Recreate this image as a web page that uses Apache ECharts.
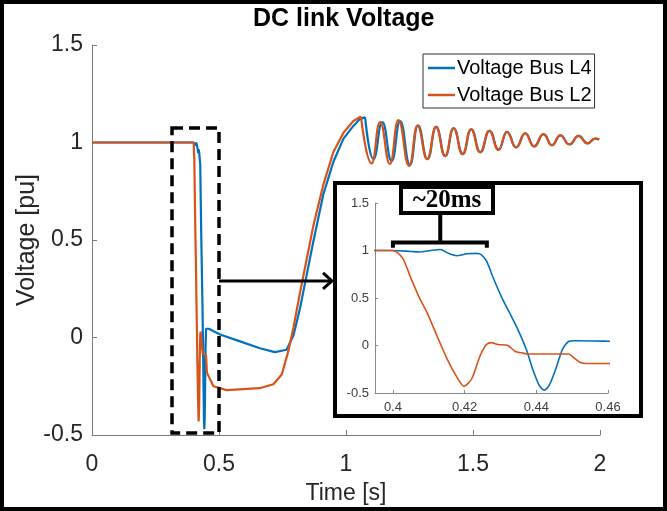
<!DOCTYPE html>
<html><head><meta charset="utf-8">
<script src="https://cdn.jsdelivr.net/npm/echarts@6/dist/echarts.min.js"></script>
<style>html,body{margin:0;padding:0;background:#fff}#c{width:667px;height:511px}</style>
</head><body><div id="c"></div>
<script>
// ---- data ----
const seriesNames = ['Voltage Bus L4', 'Voltage Bus L2'];
const xTicks = [0, 0.5, 1, 1.5, 2];
const yTicks = [-0.5, 0, 0.5, 1, 1.5];
const insetXTicks = [0.4, 0.42, 0.44, 0.46];
const insetYTicks = [-0.5, 0, 0.5, 1, 1.5];

// Voltage Bus L4 (blue): fault, recovery and rise
const l4Time = [0, 0.400, 0.405, 0.4073, 0.4105, 0.4132, 0.4155, 0.4178, 0.4206, 0.4234, 0.4247, 0.4261, 0.428, 0.4303, 0.4326, 0.4349, 0.4372, 0.439, 0.4408, 0.4422, 0.4436, 0.4454, 0.4473, 0.4491, 0.4505, 0.46, 0.504, 0.583, 0.661, 0.72, 0.766, 0.793, 0.819, 0.845, 0.871, 0.91, 0.95, 0.99, 1.029, 1.055, 1.075];
const l4Volt = [1, 1, 0.99, 0.985, 1.0, 1.01, 0.97, 0.945, 0.965, 0.97, 0.955, 0.89, 0.71, 0.51, 0.34, 0.165, -0.04, -0.25, -0.42, -0.47, -0.42, -0.25, -0.04, 0.045, 0.05, 0.045, 0.015, -0.02, -0.055, -0.075, -0.063, 0.01, 0.15, 0.32, 0.49, 0.73, 0.90, 1.02, 1.085, 1.12, 1.13];
// Voltage Bus L4: oscillation peaks and troughs
const l4OscTime = [1.075, 1.108, 1.143, 1.18, 1.213, 1.252, 1.283, 1.321, 1.355, 1.391, 1.424, 1.46, 1.493, 1.529, 1.565, 1.601, 1.634, 1.67, 1.706, 1.741, 1.778, 1.811, 1.844, 1.88, 1.916, 1.951, 1.981, 1.997];
const l4OscVolt = [1.13, 0.915, 1.105, 0.905, 1.11, 0.885, 1.088, 0.915, 1.08, 0.93, 1.073, 0.94, 1.068, 0.95, 1.06, 0.963, 1.055, 0.975, 1.047, 0.98, 1.043, 0.986, 1.037, 0.99, 1.034, 0.996, 1.02, 1.015];

// Voltage Bus L2 (orange): fault, recovery and rise
const l2Time = [0, 0.400, 0.4027, 0.405, 0.4073, 0.4096, 0.4123, 0.4151, 0.4178, 0.4198, 0.422, 0.4243, 0.4261, 0.4275, 0.4293, 0.4321, 0.434, 0.4362, 0.438, 0.449, 0.4505, 0.4523, 0.454, 0.46, 0.478, 0.53, 0.66, 0.714, 0.747, 0.773, 0.793, 0.819, 0.845, 0.871, 0.91, 0.95, 0.99, 1.029, 1.059];
const l2Volt = [1, 1, 0.92, 0.71, 0.51, 0.34, 0.10, -0.14, -0.33, -0.43, -0.35, -0.11, 0.01, 0.03, 0.01, 0.0, -0.06, -0.08, -0.09, -0.09, -0.13, -0.18, -0.19, -0.19, -0.25, -0.27, -0.26, -0.24, -0.19, -0.07, 0.05, 0.23, 0.40, 0.57, 0.78, 0.95, 1.05, 1.11, 1.133];
// Voltage Bus L2: oscillation peaks and troughs
const l2OscTime = [1.059, 1.101, 1.134, 1.173, 1.206, 1.249, 1.281, 1.32, 1.354, 1.39, 1.423, 1.459, 1.492, 1.528, 1.564, 1.6, 1.633, 1.669, 1.705, 1.74, 1.777, 1.81, 1.843, 1.879, 1.915, 1.95, 1.98, 1.997];
const l2OscVolt = [1.133, 0.893, 1.105, 0.89, 1.115, 0.88, 1.085, 0.915, 1.08, 0.93, 1.073, 0.94, 1.068, 0.95, 1.06, 0.963, 1.055, 0.975, 1.047, 0.98, 1.043, 0.986, 1.037, 0.99, 1.034, 0.996, 1.02, 1.015];

// ---- chart ----
const BLUE = '#0072BD', ORANGE = '#D95319';
const FONT = 'Liberation Sans, Arial, sans-serif';
const zip = (t, v) => t.map((x, i) => [x, v[i]]);

const chart = echarts.init(document.getElementById('c'), null, {renderer: 'canvas'});

function line(name, color, data, opts) {
  return Object.assign({
    type: 'line', name, data, symbol: 'none', showSymbol: false,
    lineStyle: {color, width: 2.2}, itemStyle: {color},
    xAxisIndex: 0, yAxisIndex: 0, z: 2, clip: true, animation: false,
    emphasis: {disabled: true}
  }, opts || {});
}

const mainAxisLine = {show: true, onZero: false, lineStyle: {color: '#7a7a7a', width: 1}};
const insetAxisLine = {show: true, onZero: false, lineStyle: {color: '#8a8a8a', width: 1}};

chart.setOption({
  animation: false,
  title: {
    text: 'DC link Voltage', left: 253, top: 7, padding: 0,
    textStyle: {fontFamily: FONT, fontSize: 25, fontWeight: 'bold', color: '#000'}
  },
  legend: {
    data: seriesNames, orient: 'vertical', left: 423, top: 54,
    backgroundColor: '#fff', borderColor: '#303030', borderWidth: 1,
    padding: [4, 3, 3, 5], itemGap: 7, itemWidth: 27, itemHeight: 2.5, icon: 'rect',
    textStyle: {fontFamily: FONT, fontSize: 20, color: '#000', padding: [0, 0, 0, -3]},
    selectedMode: false, z: 6
  },
  grid: [
    {left: 92, top: 45, width: 508, height: 390, containLabel: false},
    {left: 375, top: 203, width: 233, height: 190, containLabel: false, z: 10}
  ],
  xAxis: [
    {
      type: 'value', gridIndex: 0, min: xTicks[0], max: xTicks[xTicks.length - 1], interval: 0.5,
      axisLine: mainAxisLine, splitLine: {show: false},
      axisTick: {show: true, inside: true, length: 5, lineStyle: {color: '#7a7a7a'}},
      axisLabel: {fontFamily: FONT, fontSize: 23, color: '#262626', margin: 18},
      name: 'Time [s]', nameLocation: 'middle', nameGap: 47, nameMoveOverlap: false,
      nameTextStyle: {fontFamily: FONT, fontSize: 23, color: '#262626'}
    },
    {
      type: 'value', gridIndex: 1, min: 0.395, max: 0.46, z: 10,
      axisLine: insetAxisLine, splitLine: {show: false},
      axisTick: {show: true, inside: true, length: 3, customValues: insetXTicks, lineStyle: {color: '#8a8a8a'}},
      axisLabel: {fontFamily: FONT, fontSize: 13, color: '#404040', margin: 8, customValues: insetXTicks}
    }
  ],
  yAxis: [
    {
      type: 'value', gridIndex: 0, min: yTicks[0], max: yTicks[yTicks.length - 1], interval: 0.5,
      axisLine: mainAxisLine, splitLine: {show: false},
      axisTick: {show: true, inside: true, length: 5, lineStyle: {color: '#7a7a7a'}},
      axisLabel: {fontFamily: FONT, fontSize: 23, color: '#262626', margin: 9},
      name: 'Voltage [pu]', nameLocation: 'middle', nameGap: 52, nameMoveOverlap: false,
      nameTextStyle: {fontFamily: FONT, fontSize: 25, color: '#262626'}
    },
    {
      type: 'value', gridIndex: 1, min: insetYTicks[0], max: insetYTicks[insetYTicks.length - 1], interval: 0.5, z: 10,
      axisLine: insetAxisLine, splitLine: {show: false},
      axisTick: {show: true, inside: true, length: 3, lineStyle: {color: '#8a8a8a'}},
      axisLabel: {fontFamily: FONT, fontSize: 13, color: '#404040', margin: 6}
    }
  ],
  series: [
    line(seriesNames[0], BLUE, zip(l4Time, l4Volt)),
    line(seriesNames[0], BLUE, zip(l4OscTime, l4OscVolt), {smooth: 0.5, smoothMonotone: 'x'}),
    line(seriesNames[1], ORANGE, zip(l2Time, l2Volt)),
    line(seriesNames[1], ORANGE, zip(l2OscTime, l2OscVolt), {smooth: 0.5, smoothMonotone: 'x'}),
    line(seriesNames[0], BLUE, zip(l4Time, l4Volt), {xAxisIndex: 1, yAxisIndex: 1, z: 11, smooth: 0.25, lineStyle: {color: BLUE, width: 1.6}}),
    line(seriesNames[1], ORANGE, zip(l2Time, l2Volt), {xAxisIndex: 1, yAxisIndex: 1, z: 11, smooth: 0.25, lineStyle: {color: ORANGE, width: 1.6}})
  ]
});

// annotations positioned from data coordinates
const d1 = chart.convertToPixel({gridIndex: 0}, [0.315, 1.075]);
const d2 = chart.convertToPixel({gridIndex: 0}, [0.5, -0.49]);
const arrowY = chart.convertToPixel({gridIndex: 0}, [0.5, 0.29])[1];
const bL = chart.convertToPixel({gridIndex: 1}, [0.4, 1.03]);
const bT = chart.convertToPixel({gridIndex: 1}, [0.4, 1.085]);
const bR = chart.convertToPixel({gridIndex: 1}, [0.4262, 1.03]);
const bS = chart.convertToPixel({gridIndex: 1}, [0.4132, 1.085]);
const inset = {x: 335, y: 183, w: 306, h: 233};
const lbl = {x: 401, y: 187, w: 92, h: 26};

chart.setOption({
  graphic: [
    {type: 'rect', z: 5, shape: {x: inset.x, y: inset.y, width: inset.w, height: inset.h},
     style: {fill: '#fff', stroke: '#000', lineWidth: 4}},
    {type: 'rect', z: 4, shape: {x: d1[0], y: d1[1], width: d2[0] - d1[0], height: d2[1] - d1[1]},
     style: {fill: 'none', stroke: '#000', lineWidth: 3.5, lineDash: [11, 6]}},
    {type: 'line', z: 4, shape: {x1: d2[0], y1: arrowY, x2: inset.x - 3, y2: arrowY},
     style: {stroke: '#000', lineWidth: 3}},
    {type: 'polyline', z: 4, shape: {points: [[inset.x - 12, arrowY - 8], [inset.x - 3, arrowY], [inset.x - 12, arrowY + 8]]},
     style: {fill: 'none', stroke: '#000', lineWidth: 3}},
    {type: 'polyline', z: 13, shape: {points: [[bL[0], bL[1]], [bL[0], bT[1]], [bR[0], bT[1]], [bR[0], bR[1]]]},
     style: {fill: 'none', stroke: '#000', lineWidth: 4}},
    {type: 'line', z: 13, shape: {x1: bS[0], y1: bS[1], x2: bS[0], y2: lbl.y + lbl.h},
     style: {stroke: '#000', lineWidth: 4}},
    {type: 'rect', z: 14, shape: {x: lbl.x, y: lbl.y, width: lbl.w, height: lbl.h},
     style: {fill: '#fff', stroke: '#000', lineWidth: 4}},
    {type: 'text', z: 15, x: lbl.x + lbl.w / 2, y: lbl.y + lbl.h / 2 + 1,
     style: {text: '~20ms', fill: '#000', font: 'bold 25px "Liberation Serif", "Times New Roman", serif', align: 'center', verticalAlign: 'middle'}},
    {type: 'rect', z: 30, silent: true, shape: {x: 2, y: 2, width: 663, height: 507},
     style: {fill: 'none', stroke: '#000', lineWidth: 4}}
  ]
});
</script>
</body></html>
